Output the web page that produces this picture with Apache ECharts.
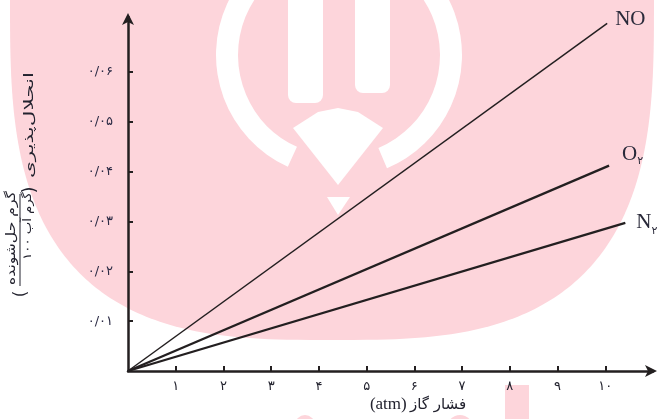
<!DOCTYPE html>
<html>
<head>
<meta charset="utf-8">
<script src="https://cdn.jsdelivr.net/npm/echarts@6/dist/echarts.min.js"></script>
<style>
html,body{margin:0;padding:0;background:#fff;}
#chart{width:660px;height:419px;}
</style>
</head>
<body>
<div id="chart"></div>
<script>
// gas pressure (atm) vs solubility, straight lines from the origin
var noX = [0, 10.04];
var noY = [0, 0.0697];
var o2X = [0, 10.08];
var o2Y = [0, 0.0412];
var n2X = [0, 10.42];
var n2Y = [0, 0.0297];

var xTicks = [1, 2, 3, 4, 5, 6, 7, 8, 9, 10];
var yTicks = [0.01, 0.02, 0.03, 0.04, 0.05, 0.06];
var faDigits = ['۰','۱','۲','۳','۴','۵','۶','۷','۸','۹'];

function toFa(s){
  return String(s).replace(/[0-9]/g, function(d){ return faDigits[+d]; });
}
function pairs(xs, ys){
  return xs.map(function(x, i){ return [x, ys[i]]; });
}

var ink = '#231f20';
var txt = '#22222e';
var pink = '#fdd5db';
var font = 'DejaVu Sans';

// watermark outline (superellipse), decoration only
function blobPoints(){
  var pts = [], cx = 332, cy = 0, a = 322, b = 340, n = 3;
  for (var i = 0; i <= 180; i++) {
    var t = Math.PI * i / 180;
    var c = Math.cos(t), s = Math.sin(t);
    var px = cx + a * Math.sign(c) * Math.pow(Math.abs(c), 2 / n);
    var py = cy + b * Math.pow(Math.abs(s), 2 / n);
    pts.push([px, py]);
  }
  pts.push([10, -5]);
  pts.push([654, -5]);
  return pts;
}

var chart = echarts.init(document.getElementById('chart'));

var option = {
  animation: false,
  backgroundColor: '#fff',
  grid: {left: 128, right: 7, top: 17, bottom: 48},
  xAxis: {
    type: 'value',
    min: 0,
    max: 11,
    interval: 1,
    splitLine: {show: false},
    axisLine: {
      show: true,
      lineStyle: {color: ink, width: 2.5},
      symbol: ['none', 'arrow'],
      symbolSize: [9, 12],
      symbolOffset: [0, 4]
    },
    axisTick: {
      show: true,
      inside: true,
      length: 5,
      customValues: xTicks,
      lineStyle: {color: ink, width: 2}
    },
    axisLabel: {
      customValues: xTicks,
      margin: 9,
      fontFamily: font,
      fontSize: 13,
      color: txt,
      formatter: function(v){ return toFa(v); }
    }
  },
  yAxis: {
    type: 'value',
    min: 0,
    max: 0.071,
    interval: 0.01,
    splitLine: {show: false},
    axisLine: {
      show: true,
      lineStyle: {color: ink, width: 2.5},
      symbol: ['none', 'arrow'],
      symbolSize: [9, 12],
      symbolOffset: [0, 4]
    },
    axisTick: {
      show: true,
      inside: true,
      length: 5,
      customValues: yTicks,
      lineStyle: {color: ink, width: 2}
    },
    axisLabel: {
      customValues: yTicks,
      margin: 15,
      fontFamily: font,
      fontSize: 13,
      color: '#2a2a44',
      formatter: function(v){ return toFa(v.toFixed(2).replace('.', '/')); }
    }
  },
  graphic: [
    {type: 'polygon', z: -10, silent: true, shape: {points: blobPoints()}, style: {fill: pink}},
    {type: 'sector', z: -9, silent: true,
      shape: {cx: 339, cy: 55, r0: 101, r: 123, startAngle: 2.0, endAngle: Math.PI * 2 + 1.17},
      style: {fill: '#fff'}},
    {type: 'rect', z: -9, silent: true, shape: {x: 288, y: -10, width: 35, height: 113, r: [0, 0, 8, 8]}, style: {fill: '#fff'}},
    {type: 'rect', z: -9, silent: true, shape: {x: 355, y: -10, width: 35, height: 103, r: [0, 0, 8, 8]}, style: {fill: '#fff'}},
    {type: 'polygon', z: -9, silent: true,
      shape: {points: [[293, 128], [318, 112], [338, 108], [358, 112], [383, 128], [338, 185]]},
      style: {fill: '#fff'}},
    {type: 'polygon', z: -9, silent: true,
      shape: {points: [[327, 197], [350, 197], [338, 215]]},
      style: {fill: '#fff'}},
    {type: 'rect', z: -10, silent: true, shape: {x: 505, y: 385, width: 24, height: 40}, style: {fill: pink}},
    {type: 'circle', z: -10, silent: true, shape: {cx: 305, cy: 425, r: 10}, style: {fill: pink}},
    {type: 'circle', z: -10, silent: true, shape: {cx: 460, cy: 428, r: 13}, style: {fill: pink}},

    // x axis title
    {type: 'text', x: 418, y: 405,
      style: {
        text: '{a|(atm)} {b|فشار گاز}',
        align: 'center', verticalAlign: 'middle',
        rich: {
          a: {fontFamily: 'Liberation Serif', fontSize: 17, fill: txt},
          b: {fontFamily: font, fontSize: 15, fill: txt}
        }
      }},

    // y axis title, rotated
    {type: 'text', x: 30, y: 125, rotation: Math.PI / 2, scaleX: 1.65,
      style: {text: 'انحلال‌پذیری', font: '13px "DejaVu Sans"', fill: txt, align: 'center', verticalAlign: 'middle'}},
    {type: 'text', x: 31, y: 190, rotation: Math.PI / 2,
      style: {text: ')', font: '17px "DejaVu Sans"', fill: txt, align: 'center', verticalAlign: 'middle'}},
    {type: 'text', x: 12, y: 238, rotation: Math.PI / 2, scaleX: 1.2,
      style: {text: 'گرم حل‌شونده', font: '13px "DejaVu Sans"', fill: txt, align: 'center', verticalAlign: 'middle'}},
    {type: 'line', shape: {x1: 20, y1: 194, x2: 20, y2: 286}, style: {stroke: txt, lineWidth: 1}},
    {type: 'text', x: 28, y: 226, rotation: Math.PI / 2, scaleX: 1.1,
      style: {text: '۱۰۰ گرم آب', font: '12px "DejaVu Sans"', fill: txt, align: 'center', verticalAlign: 'middle'}},
    {type: 'text', x: 22, y: 294, rotation: Math.PI / 2,
      style: {text: '(', font: '17px "DejaVu Sans"', fill: txt, align: 'center', verticalAlign: 'middle'}}
  ],
  series: [
    {
      name: 'NO',
      type: 'line',
      data: pairs(noX, noY),
      symbol: 'none',
      lineStyle: {color: ink, width: 1.5},
      endLabel: {
        show: true,
        formatter: 'NO',
        offset: [0, -4],
        fontFamily: 'Liberation Serif',
        fontSize: 21,
        color: '#2a2a3a'
      }
    },
    {
      name: 'O2',
      type: 'line',
      data: pairs(o2X, o2Y),
      symbol: 'none',
      lineStyle: {color: ink, width: 2.3},
      endLabel: {
        show: true,
        formatter: '{a|O}{b|۲}',
        offset: [5, -11],
        rich: {
          a: {fontFamily: 'Liberation Serif', fontSize: 21, color: '#2a2a3a'},
          b: {fontFamily: font, fontSize: 11, color: '#2a2a3a', padding: [14, 0, 0, 0]}
        }
      }
    },
    {
      name: 'N2',
      type: 'line',
      data: pairs(n2X, n2Y),
      symbol: 'none',
      lineStyle: {color: ink, width: 2.3},
      endLabel: {
        show: true,
        formatter: '{a|N}{b|۲}',
        offset: [3, 0],
        rich: {
          a: {fontFamily: 'Liberation Serif', fontSize: 21, color: '#2a2a3a'},
          b: {fontFamily: font, fontSize: 11, color: '#2a2a3a', padding: [16, 0, 0, 0]}
        }
      }
    }
  ]
};

chart.setOption(option);
</script>
</body>
</html>
